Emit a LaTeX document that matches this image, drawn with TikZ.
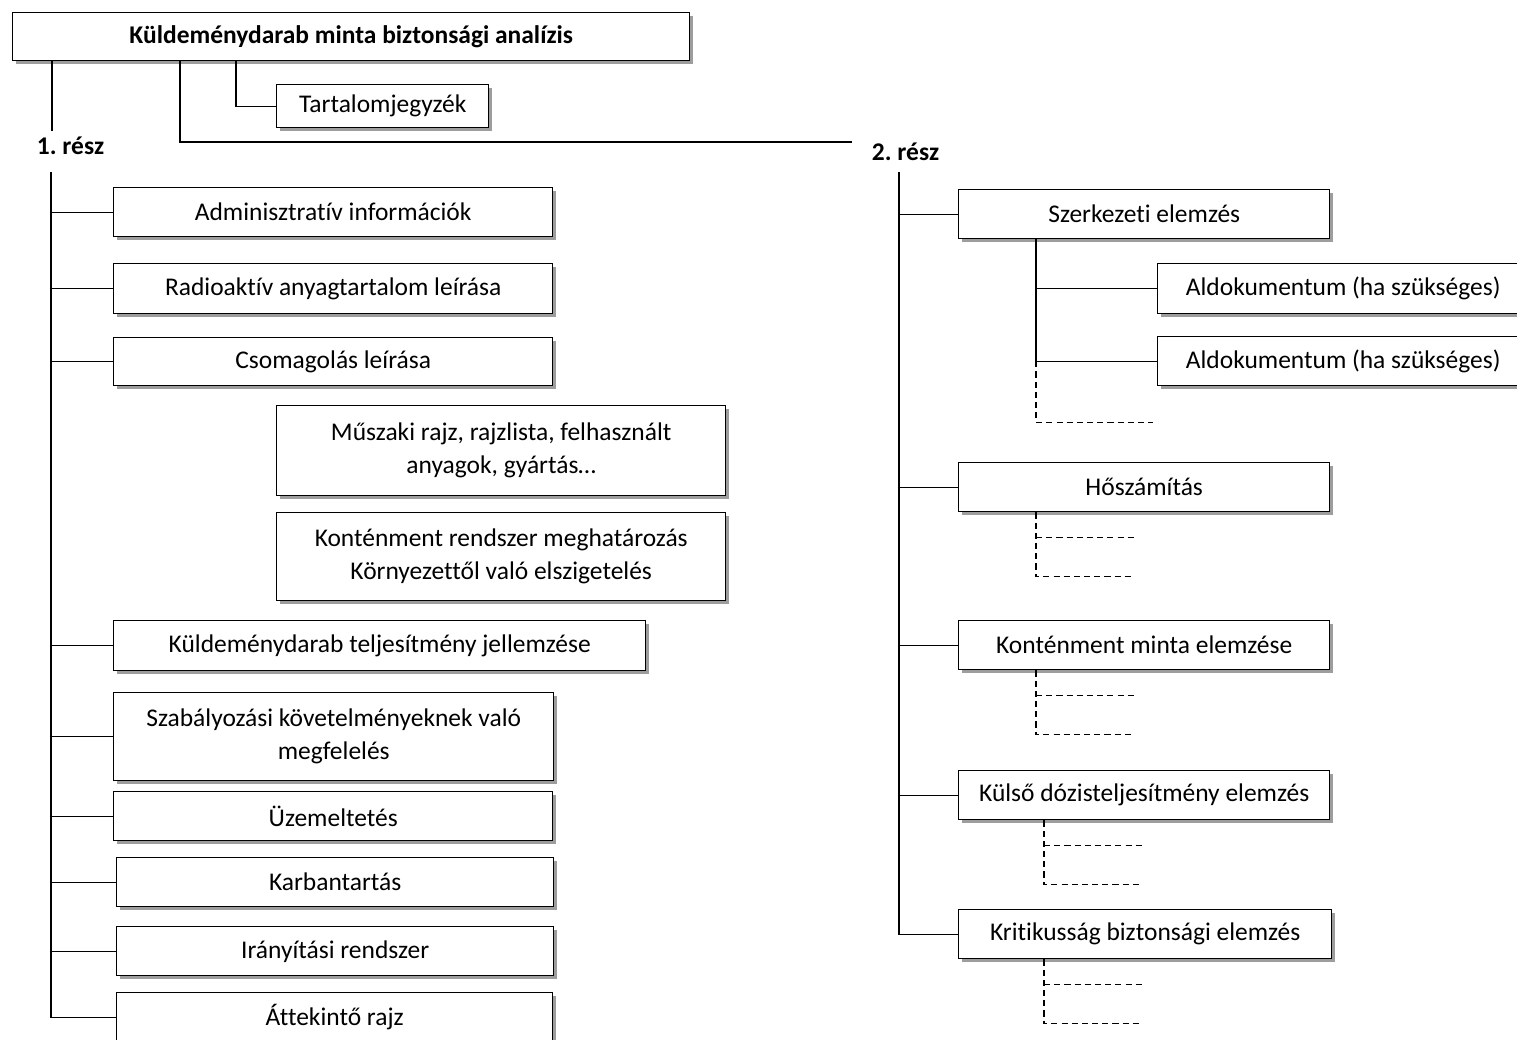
\documentclass[tikz,border=0pt]{standalone}
\usepackage{fontspec}
\setmainfont[Ligatures=NoCommon]{Carlito}
\usetikzlibrary{positioning,calc,shadows}
\newlength\pxu
\setlength\pxu{0.02cm}
\frenchspacing

\begin{document}
\begin{tikzpicture}[x=0.02cm,y=-0.02cm,line width=0.8pt,
    box/.style={draw,fill=white,rectangle,inner sep=0pt,anchor=north west,align=center,
      font=\fontsize{14.5}{18.7}\selectfont,
      drop shadow={shadow xshift=3.5\pxu,shadow yshift=-3.5\pxu,fill=black!55,opacity=0.7}},
    part/.style={anchor=west,inner sep=3pt,font=\fontsize{14.5}{18.7}\selectfont\bfseries},
    stub/.style={line width=0.6pt,dash pattern=on 3.5pt off 2.3pt}]
    \useasboundingbox (0,0) rectangle (1517,1039);
    \clip (0,0) rectangle (1517,1039);

    \node[box,minimum width=677\pxu,minimum height=48\pxu,font=\fontsize{14.5}{18.7}\selectfont\bfseries] (title) at (12,12) {Küldeménydarab minta biztonsági analízis};
    \node[box,minimum width=212\pxu,minimum height=43\pxu] (toc) at (276,84) {Tartalomjegyzék};
    \node[part] (r1) at (31,146) {1. rész};
    \node[part] (r2) at (866,152) {2. rész};

    % 1. resz
    \node[box,minimum width=439\pxu,minimum height=49\pxu] (adm) at (113,187) {Adminisztratív információk};
    \node[box,minimum width=439\pxu,minimum height=50\pxu] (rad) at (113,263) {Radioaktív anyagtartalom leírása};
    \node[box,minimum width=439\pxu,minimum height=48\pxu] (cso) at (113,337) {Csomagolás leírása};
    \node[box,minimum width=449\pxu,minimum height=90\pxu] (mus) at (276,405) {Műszaki rajz, rajzlista, felhasznált\\anyagok, gyártás…};
    \node[box,minimum width=449\pxu,minimum height=88\pxu] (kot) at (276,512) {Konténment rendszer meghatározás\\Környezettől való elszigetelés};
    \node[box,minimum width=532\pxu,minimum height=50\pxu] (kul) at (113,620) {Küldeménydarab teljesítmény jellemzése};
    \node[box,minimum width=440\pxu,minimum height=88\pxu] (sza) at (113,692) {Szabályozási követelményeknek való\\megfelelés};
    \node[box,minimum width=439\pxu,minimum height=49\pxu] (uze) at (113,791) {Üzemeltetés};
    \node[box,minimum width=437\pxu,minimum height=49\pxu] (kar) at (116,857) {Karbantartás};
    \node[box,minimum width=437\pxu,minimum height=49\pxu] (ira) at (116,926) {Irányítási rendszer};
    \node[box,minimum width=436\pxu,minimum height=49\pxu] (att) at (116,992) {Áttekintő rajz};

    % 2. resz
    \node[box,minimum width=371\pxu,minimum height=49\pxu] (sze) at (958,189) {Szerkezeti elemzés};
    \node[box,minimum width=371\pxu,minimum height=50\pxu] (ald1) at (1157,263) {Aldokumentum (ha szükséges)};
    \node[box,minimum width=371\pxu,minimum height=49\pxu] (ald2) at (1157,336) {Aldokumentum (ha szükséges)};
    \node[box,minimum width=371\pxu,minimum height=49\pxu] (hos) at (958,462) {Hőszámítás};
    \node[box,minimum width=371\pxu,minimum height=49\pxu] (kon) at (958,620) {Konténment minta elemzése};
    \node[box,minimum width=371\pxu,minimum height=49\pxu] (kds) at (958,770) {Külső dózisteljesítmény elemzés};
    \node[box,minimum width=373\pxu,minimum height=49\pxu] (kri) at (958,909) {Kritikusság biztonsági elemzés};

    % title links
    \coordinate (t1) at ($(title.south west)+(40,0)$);
    \coordinate (t2) at ($(title.south west)+(168,0)$);
    \coordinate (t3) at ($(title.south west)+(224,0)$);
    \coordinate (j2) at (852,142);
    \draw (t1) -- (t1 |- r1.north);
    \draw (t2) |- (j2);
    \draw (t3) |- (toc.west);

    % spines
    \coordinate (l0) at (51,172);
    \coordinate (q0) at (899,172);
    \draw (l0) |- (att.west);
    \foreach \n in {adm,rad,cso,kul,sza,uze,kar,ira}
      \draw (l0 |- \n.west) -- (\n.west);
    \draw (q0) |- (kri.west);
    \foreach \n in {sze,hos,kon,kds}
      \draw (q0 |- \n.west) -- (\n.west);

    \coordinate (szt) at ($(sze.south west)+(78,0)$);
    \draw (szt) |- (ald2.west);
    \draw (szt |- ald1.west) -- (ald1.west);
    \draw[stub] (szt |- ald2.west) -- ++(0,61) -- ++(117,0);

    \foreach \n/\dx in {hos/78,kon/78,kds/86,kri/86}{
      \coordinate (\n-s) at ($(\n.south west)+(\dx,0)$);
      \draw[stub] (\n-s) -- ++(0,64) -- ++(99,0);
      \draw[stub] ($(\n-s)+(0,25)$) -- ++(99,0);
    }
  \end{tikzpicture}
\end{document}
